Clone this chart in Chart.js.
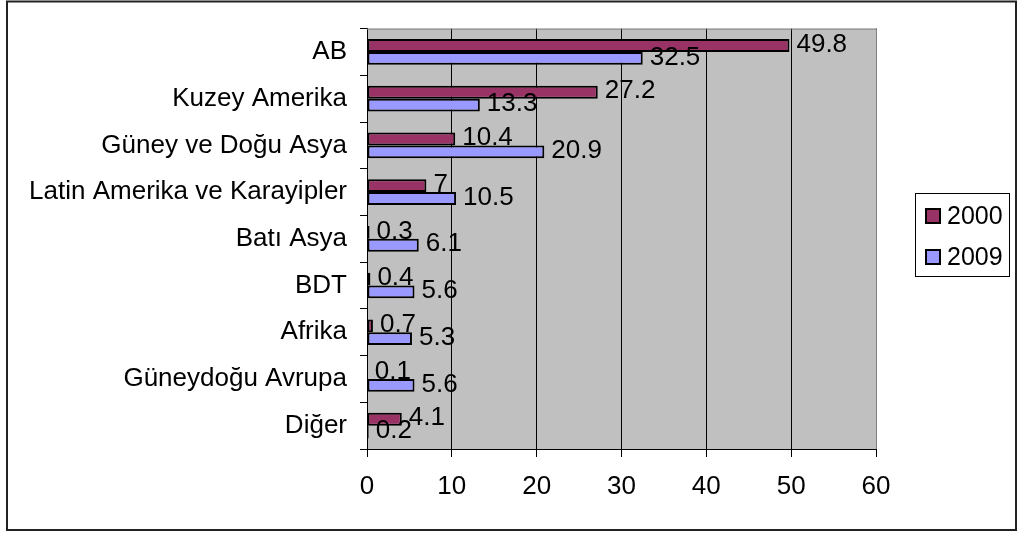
<!DOCTYPE html>
<html>
<head>
<meta charset="utf-8">
<script src="https://cdn.jsdelivr.net/npm/chart.js@4/dist/chart.umd.min.js"></script>
<style>
  html, body { margin: 0; padding: 0; background: #fff; }
  #wrap { width: 1021px; height: 534px; }
</style>
</head>
<body>
<div id="wrap"><canvas id="chart" width="1021" height="534"></canvas></div>
<script>
const categories = [
  "AB",
  "Kuzey Amerika",
  "Güney ve Doğu Asya",
  "Latin Amerika ve Karayipler",
  "Batı Asya",
  "BDT",
  "Afrika",
  "Güneydoğu Avrupa",
  "Diğer"
];
const values2000 = [49.8, 27.2, 10.4, 7, 0.3, 0.4, 0.7, 0.1, 4.1];
const values2009 = [32.5, 13.3, 20.9, 10.5, 6.1, 5.6, 5.3, 5.6, 0.2];
const xTicks = [0, 10, 20, 30, 40, 50, 60];

const FONT = "'Liberation Sans', Arial, sans-serif";

// grey plot area + outer frame + custom legend box
const framePlugin = {
  id: "frame",
  beforeDraw(chart) {
    const { ctx, chartArea: a } = chart;
    ctx.save();
    ctx.fillStyle = "#fff";
    ctx.fillRect(0, 0, chart.width, chart.height);
    ctx.fillStyle = "#c0c0c0";
    ctx.fillRect(a.left, a.top, a.right - a.left, a.bottom - a.top);
    ctx.restore();
  },
  afterDraw(chart) {
    const { ctx, chartArea: a } = chart;
    ctx.save();
    ctx.strokeStyle = "#808080";
    ctx.lineWidth = 1;
    ctx.beginPath();
    ctx.moveTo(a.left, a.top + 0.5);
    ctx.lineTo(a.right + 0.5, a.top + 0.5);
    ctx.lineTo(a.right + 0.5, a.bottom);
    ctx.stroke();

    ctx.strokeStyle = "#222";
    ctx.lineWidth = 2;
    ctx.strokeRect(7, 1.5, 1009, 528.5);

    // legend
    ctx.strokeStyle = "#000";
    ctx.lineWidth = 1;
    ctx.strokeRect(915.5, 193.5, 94, 83);
    ctx.font = "25px " + FONT;
    ctx.textBaseline = "middle";
    ctx.textAlign = "left";
    chart.data.datasets.forEach((ds, i) => {
      const cy = 216 + i * 41;
      ctx.fillStyle = ds.backgroundColor;
      ctx.fillRect(926, cy - 7, 14, 14);
      ctx.lineWidth = 2;
      ctx.strokeRect(926, cy - 7, 14, 14);
      ctx.fillStyle = "#000";
      ctx.fillText(ds.label, 947, cy + 1);
    });
    ctx.restore();
  }
};

// value labels at end of bars
const labelPlugin = {
  id: "barLabels",
  afterDatasetsDraw(chart) {
    const { ctx } = chart;
    ctx.save();
    ctx.font = "26px " + FONT;
    ctx.fillStyle = "#000";
    ctx.textAlign = "left";
    ctx.textBaseline = "middle";
    chart.data.datasets.forEach((ds, i) => {
      chart.getDatasetMeta(i).data.forEach((bar, j) => {
        ctx.fillText(String(ds.data[j]), bar.x + 7, bar.y - 1);
      });
    });
    ctx.restore();
  }
};

new Chart(document.getElementById("chart").getContext("2d"), {
  type: "bar",
  data: {
    labels: categories,
    datasets: [
      {
        label: "2000",
        data: values2000,
        backgroundColor: "#993366",
        borderColor: "#000",
        borderWidth: 2,
        borderSkipped: false
      },
      {
        label: "2009",
        data: values2009,
        backgroundColor: "#9999ff",
        borderColor: "#000",
        borderWidth: 2,
        borderSkipped: false
      }
    ]
  },
  options: {
    indexAxis: "y",
    responsive: false,
    animation: false,
    datasets: { bar: { categoryPercentage: 0.55, barPercentage: 1.0 } },
    layout: { padding: { top: 21, right: 145, left: 0, bottom: 0 } },
    plugins: {
      legend: { display: false },
      tooltip: { enabled: false }
    },
    scales: {
      x: {
        min: 0,
        max: 60,
        afterBuildTicks(scale) {
          scale.ticks = xTicks.map((v) => ({ value: v }));
        },
        afterFit(scale) { scale.height = 85; },
        grid: {
          color: "#000",
          lineWidth: 1,
          drawOnChartArea: true,
          tickLength: 8
        },
        border: { color: "#000" },
        ticks: {
          color: "#000",
          padding: 14,
          font: { family: FONT, size: 26 }
        }
      },
      y: {
        afterFit(scale) { scale.width = 367; },
        grid: {
          offset: true,
          drawOnChartArea: false,
          color: "#000",
          tickLength: 7
        },
        border: { color: "#000" },
        ticks: {
          color: "#000",
          padding: 13,
          autoSkip: false,
          font: { family: FONT, size: 26 }
        }
      }
    }
  },
  plugins: [framePlugin, labelPlugin]
});
</script>
</body>
</html>
